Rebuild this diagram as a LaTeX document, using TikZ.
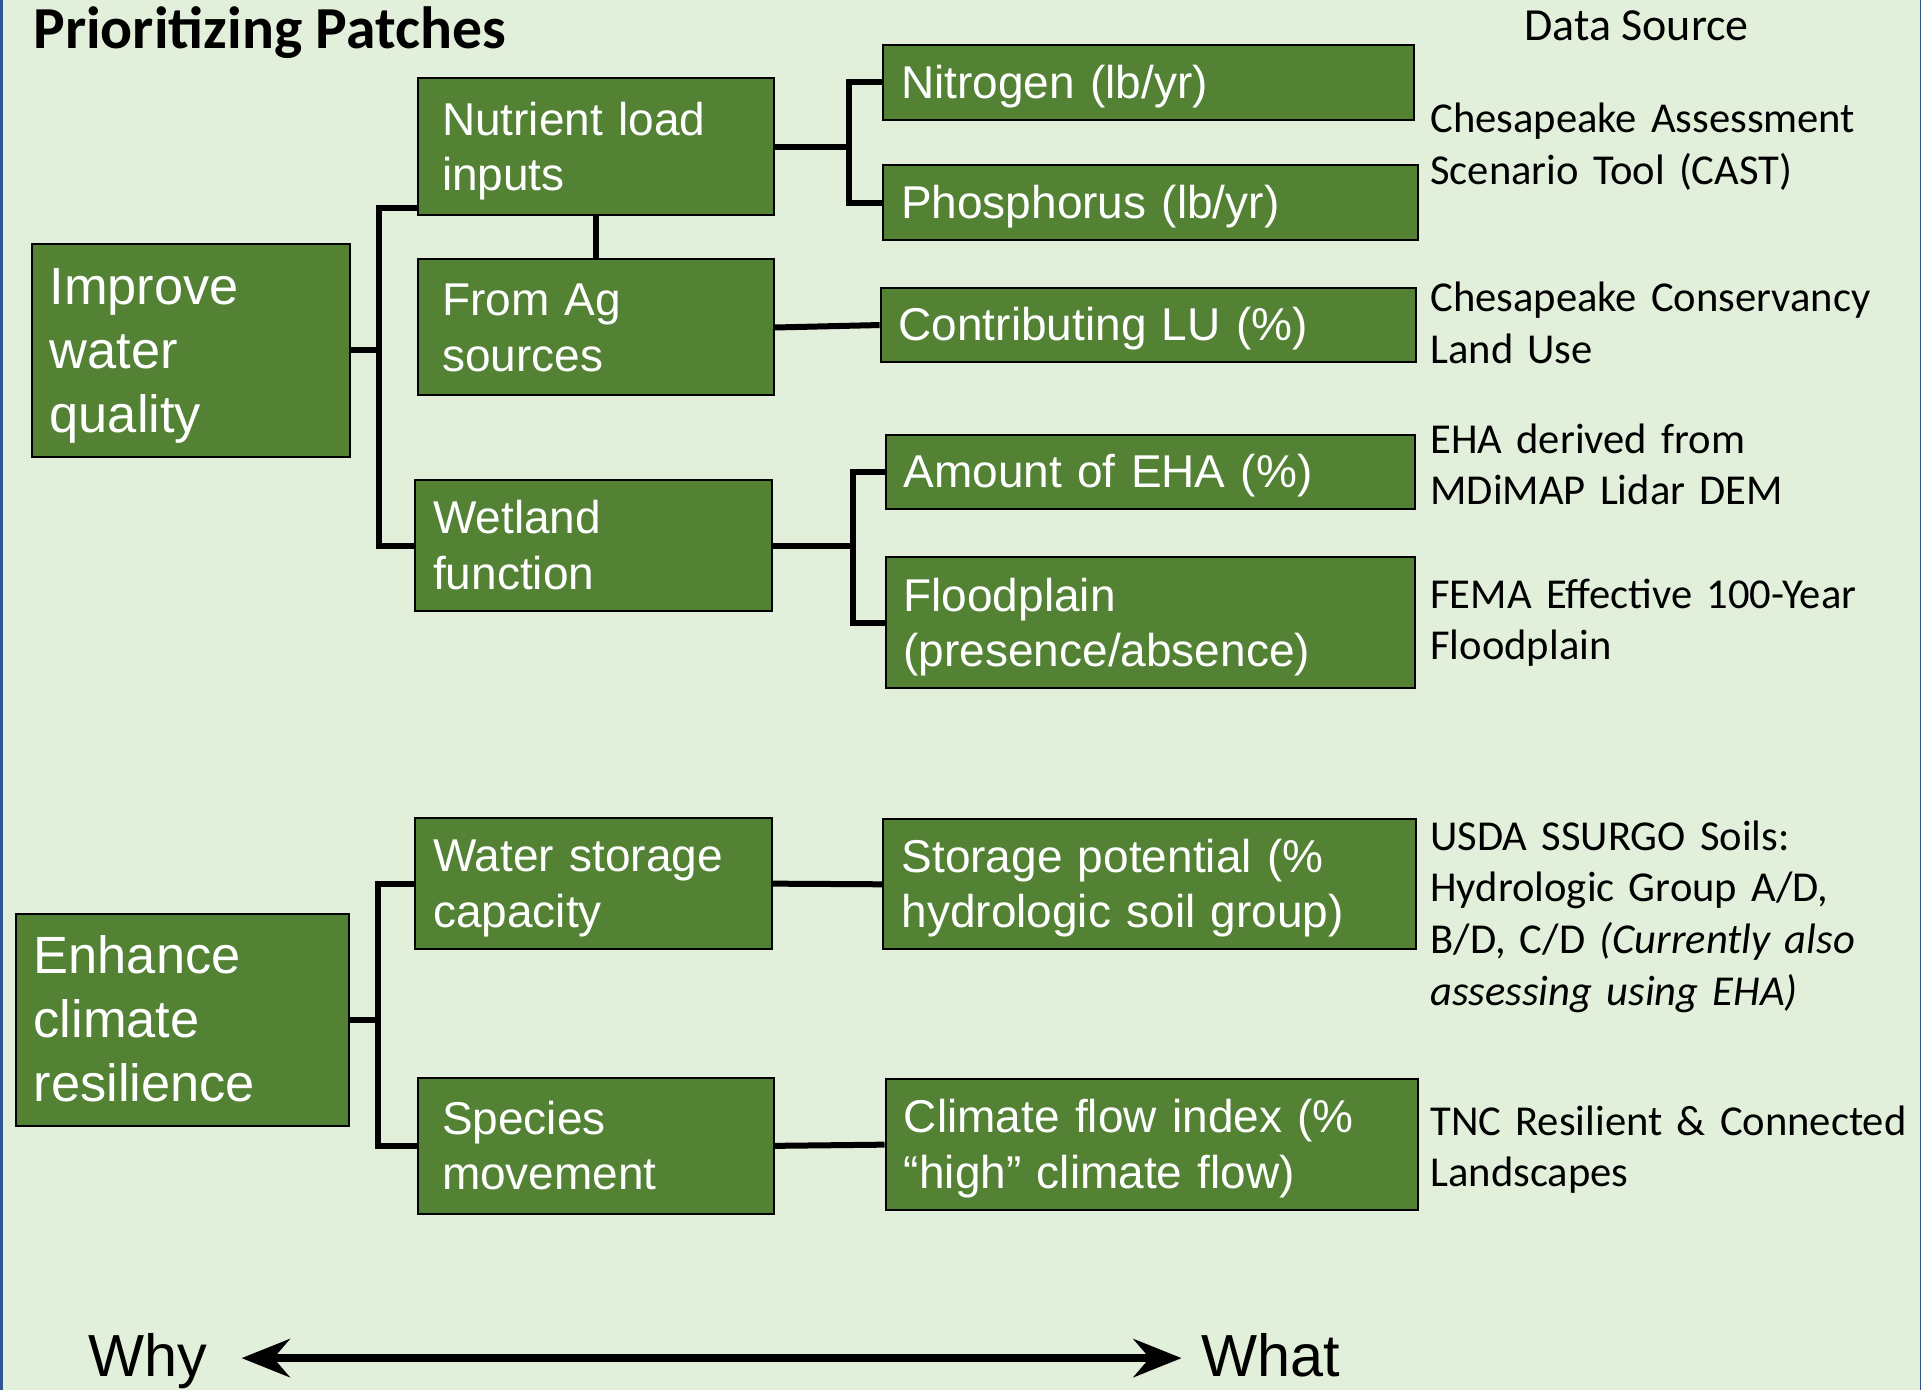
\documentclass[tikz,border=0pt]{standalone}
\usepackage{fontspec}
\setmainfont{Liberation Sans}
\newfontfamily\calibrifont{Carlito}
\usetikzlibrary{arrows.meta}

\definecolor{pagebg}{HTML}{E2EFDA}
\definecolor{boxgreen}{HTML}{548235}
\definecolor{edgeblue}{HTML}{2F5597}

% invisible strut with the ascent and descent of the box font
\newcommand\boxstrut{\rule[-0.212em]{0pt}{1.117em}}

\tikzset{
  gbox/.style={draw=black, line width=1pt, fill=boxgreen, text=white,
    inner sep=0pt, align=left, rectangle, anchor=north west,
    font=\fontsize{23}{27.6}\selectfont,
    execute at begin node=\boxstrut, execute at end node=\boxstrut},
  bigbox/.style={gbox, font=\fontsize{26.2}{32}\selectfont},
  conn/.style={draw=black, line width=3pt},
  srctext/.style={anchor=base west, inner sep=0pt, align=left, text width=270pt,
    font=\calibrifont\fontsize{21.3}{25.85}\selectfont},
  dblarrow/.style={line width=4.3pt,
    {Stealth[length=24pt,width=19pt,inset=8pt]}-{Stealth[length=24pt,width=19pt,inset=8pt]}},
  endword/.style={anchor=base west, inner sep=0pt, font=\fontsize{29.7}{35}\selectfont}
}

\begin{document}
\begin{tikzpicture}[x=0.5pt,y=-0.5pt]
  % page
  \fill[pagebg] (0,0) rectangle (1921,1390);
  \useasboundingbox (0,0) rectangle (1921,1390);
  \fill[edgeblue] (0,0) rectangle (2.5,1390);
  \fill[edgeblue] (1919.5,0) rectangle (1921,1390);

  % headings
  \node[anchor=base west, inner sep=0pt, font=\calibrifont\bfseries\fontsize{29.8}{35}\selectfont]
    (title) at (33,48.5) {Prioritizing Patches};
  \node[anchor=base west, inner sep=0pt, font=\calibrifont\fontsize{23}{27}\selectfont]
    (dshead) at (1524,40.7) {Data Source};

  % water quality branch
  \node[bigbox, minimum width=159.3pt, minimum height=106.55pt, text width=141.3pt]
    (improve) at (30.6,242.6) {Improve\\water\\quality};
  \node[gbox, minimum width=178.25pt, minimum height=68.6pt, text width=153.75pt]
    (nutrient) at (416.5,77.2) {Nutrient load\\inputs};
  \node[gbox, minimum width=178.25pt, minimum height=68pt, text width=153.75pt]
    (fromag) at (416.5,258.5) {From Ag\\sources};
  \node[gbox, minimum width=178.25pt, minimum height=65.55pt, text width=160.25pt]
    (wetland) at (414.1,479) {Wetland\\function};
  \node[gbox, minimum width=265.2pt, minimum height=37.35pt, text width=247.2pt]
    (nitrogen) at (882.1,44.1) {Nitrogen (lb/yr)};
  \node[gbox, minimum width=267.65pt, minimum height=37.35pt, text width=249.65pt]
    (phos) at (882.1,164.2) {Phosphorus (lb/yr)};
  \node[gbox, minimum width=267.7pt, minimum height=37.35pt, text width=249.7pt]
    (contrib) at (879.6,286.7) {Contributing LU (\%)};
  \node[gbox, minimum width=264.65pt, minimum height=37.35pt, text width=246.65pt]
    (eha) at (884.5,433.7) {Amount of EHA (\%)};
  \node[gbox, minimum width=264.65pt, minimum height=65.55pt, text width=246.65pt]
    (flood) at (884.5,556.2) {Floodplain\\(presence/absence)};

  % climate resilience branch
  \node[bigbox, minimum width=166.6pt, minimum height=105.95pt, text width=148.6pt]
    (enhance) at (14.7,912.7) {Enhance\\climate\\resilience};
  \node[gbox, minimum width=178.25pt, minimum height=65.55pt, text width=160.25pt]
    (water) at (414.1,817.1) {Water storage\\capacity};
  \node[gbox, minimum width=178.25pt, minimum height=67.95pt, text width=153.75pt]
    (species) at (416.5,1076.9) {Species\\movement};
  \node[gbox, minimum width=266.45pt, minimum height=64.9pt, text width=248pt]
    (storage) at (882.1,818.4) {Storage potential (\%\\hydrologic soil group)};
  \node[gbox, minimum width=266.45pt, minimum height=65.55pt, text width=248pt]
    (climate) at (884.5,1078.1) {Climate flow index (\%\\“high” climate flow)};

  % junction columns
  \coordinate (j1) at (378.6,0);
  \coordinate (j2) at (849,0);
  \coordinate (j3) at (853,0);
  \coordinate (j4) at (377.6,0);

  % connectors
  \draw[conn] ([yshift=4pt]nutrient.south west) -| (j1 |- wetland.west) -- (wetland.west);
  \draw[conn] (improve.east) -- (j1 |- improve.east);
  \draw[conn] (nitrogen.west) -| (j2 |- phos.west) -- (phos.west);
  \draw[conn] (nutrient.east) -- (j2 |- nutrient.east);
  \draw[conn] (nutrient.south) -- (fromag.north);
  \draw[conn] (fromag.east) -- (contrib.west);
  \draw[conn] (eha.west) -| (j3 |- flood.west) -- (flood.west);
  \draw[conn] (wetland.east) -- (j3 |- wetland.east);
  \draw[conn] (water.west) -| (j4 |- species.west) -- (species.west);
  \draw[conn] (enhance.east) -- (j4 |- enhance.east);
  \draw[conn] (water.east) -- (storage.west);
  \draw[conn] (species.east) -- (climate.west);

  % data sources
  \node[srctext] (src1) at (1430,132.7) {Chesapeake Assessment\\Scenario Tool (CAST)};
  \node[srctext] (src2) at (1430,311.7) {Chesapeake Conservancy\\Land Use};
  \node[srctext] (src3) at (1430,453.3) {EHA derived from\\MDiMAP Lidar DEM};
  \node[srctext] (src4) at (1430,608.1) {FEMA Effective 100-Year\\Floodplain};
  \node[srctext] (src5) at (1430,850) {USDA SSURGO Soils:\\Hydrologic Group A/D,\\B/D, C/D \textit{(Currently also}\\\textit{assessing using EHA)}};
  \node[srctext] (src6) at (1430,1135) {TNC Resilient \& Connected\\Landscapes};

  % why / what axis
  \node[endword] (why) at (88,1376.7) {Why};
  \node[endword] (what) at (1200.6,1376.7) {What};
  \draw[dblarrow] ([xshift=17pt,yshift=9.3pt]why.base east) -- ([xshift=-9.5pt,yshift=9.3pt]what.base west);
\end{tikzpicture}
\end{document}
